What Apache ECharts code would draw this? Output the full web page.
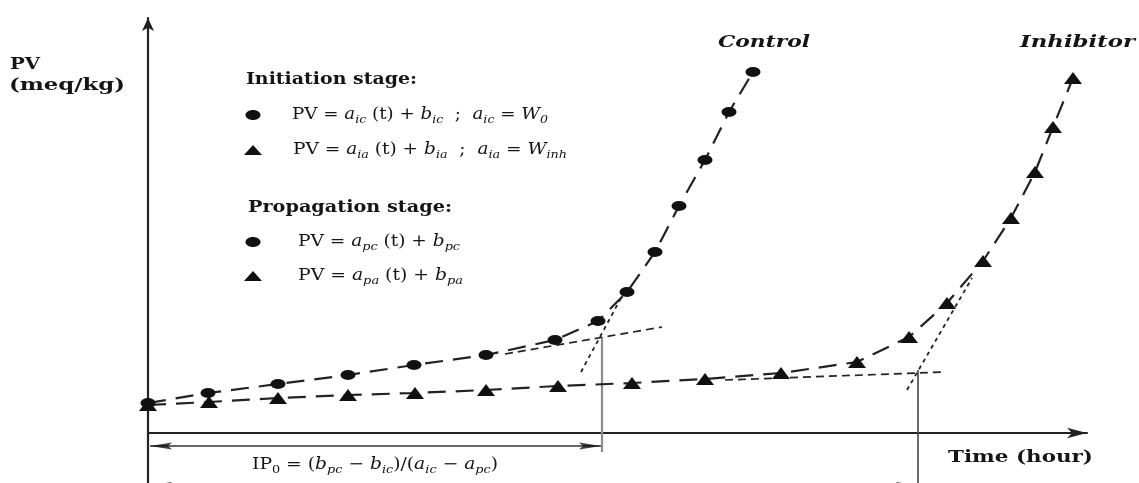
<!DOCTYPE html>
<html><head><meta charset="utf-8">
<script src="https://cdn.jsdelivr.net/npm/echarts@6/dist/echarts.min.js"></script>
<style>html,body{margin:0;padding:0;background:#fff}#c{width:1139px;height:483px}</style>
</head><body><div id="c"></div>
<script>
// ---- data (time units, PV units) ----
const controlTime = [0, 6.0, 13.0, 20.0, 26.6, 33.8, 40.7, 45.0, 47.9, 50.7, 53.1, 55.7, 58.1, 60.5];
const controlPV   = [3.0, 4.0, 4.9, 5.8, 6.8, 7.8, 9.3, 11.2, 14.1, 18.1, 22.7, 27.3, 32.1, 36.1];
const inhibitorTime = [0, 6.1, 13.0, 20.0, 26.7, 33.8, 41.0, 48.4, 55.7, 63.3, 70.9, 76.1, 79.9, 83.5, 86.3, 88.7, 90.5, 92.5];
const inhibitorPV   = [2.8, 3.1, 3.5, 3.8, 4.0, 4.3, 4.7, 5.0, 5.4, 6.0, 7.1, 9.6, 13.0, 17.2, 21.5, 26.1, 30.6, 35.5];
const controlInitTangent   = [[35.7, 7.9], [51.4, 10.6]];
const controlPropTangent   = [[43.3, 6.1], [47.3, 13.5]];
const inhibitorInitTangent = [[57.7, 5.3], [79.7, 6.1]];
const inhibitorPropTangent = [[75.9, 4.3], [82.4, 15.5]];
const ipControlLine   = [[45.4, 9.5], [45.4, -1.9]];
const ipInhibitorLine = [[77.0, 6.3], [77.0, -5]];
const ipArrowLine     = [[0.2, -1.3], [45.3, -1.3]];
const arrowLeftPts  = [[1.3, -1.3], [1.3, -5.25]];
const arrowRightPts = [[44.2, -1.3], [75.9, -5.25]];

const FONT = '"DejaVu Serif", "Liberation Serif", serif';
const INK = '#151515';
const ST = {
  b:  {fontWeight:'bold', fontStyle:'normal', fontSize:17, lineHeight:22, verticalAlign:'middle'},
  bi: {fontWeight:'bold', fontStyle:'italic', fontSize:17, lineHeight:22, verticalAlign:'middle'},
  n:  {fontWeight:'normal', fontStyle:'normal', fontSize:16, lineHeight:22, verticalAlign:'middle'},
  i:  {fontWeight:'normal', fontStyle:'italic', fontSize:16, lineHeight:22, verticalAlign:'middle'},
  s:  {fontWeight:'normal', fontStyle:'italic', fontSize:11, lineHeight:16, verticalAlign:'bottom'},
  sn: {fontWeight:'normal', fontStyle:'normal', fontSize:11, lineHeight:16, verticalAlign:'bottom'}
};
const rich = {};
Object.keys(ST).forEach(k => { rich[k] = Object.assign({fontFamily: FONT, fill: INK}, ST[k]); });
const cv = document.createElement('canvas').getContext('2d');
function measure(segs){
  let w = 0;
  segs.forEach(([t,k]) => { const s = ST[k]; cv.font = `${s.fontStyle} ${s.fontWeight} ${s.fontSize}px ${FONT}`; w += cv.measureText(t).width; });
  return w;
}
function txt(segs, x, y, width){
  return {type:'text', x:x, y:y, scaleX: width / measure(segs), silent:true, z:20,
    style:{text: segs.map(([t,k]) => `{${k}|${t}}`).join(''), rich: rich, align:'left', verticalAlign:'middle'}};
}
const texts = [
  txt([['PV','b']], 10, 65, 30),
  txt([['(meq/kg)','b']], 9, 86, 116),
  txt([['Control','bi']], 718, 43, 92),
  txt([['Inhibitor','bi']], 1020, 43, 115),
  txt([['Time (hour)','b']], 948, 458, 145),
  txt([['Initiation stage:','b']], 246, 80, 171),
  txt([['PV = ','n'],['a','i'],['ic','s'],[' (t) + ','n'],['b','i'],['ic','s'],['  ;  ','n'],['a','i'],['ic','s'],[' = ','n'],['W','i'],['0','s']], 292, 115, 256),
  txt([['PV = ','n'],['a','i'],['ia','s'],[' (t) + ','n'],['b','i'],['ia','s'],['  ;  ','n'],['a','i'],['ia','s'],[' = ','n'],['W','i'],['inh','s']], 293, 150, 274),
  txt([['Propagation stage:','b']], 248, 208, 204),
  txt([['PV = ','n'],['a','i'],['pc','s'],[' (t) + ','n'],['b','i'],['pc','s']], 298, 242, 162),
  txt([['PV = ','n'],['a','i'],['pa','s'],[' (t) + ','n'],['b','i'],['pa','s']], 298, 276, 165),
  txt([['IP','n'],['0','sn'],[' = (','n'],['b','i'],['pc','s'],[' \u2212 ','n'],['b','i'],['ic','s'],[')/(','n'],['a','i'],['ic','s'],[' \u2212 ','n'],['a','i'],['pc','s'],[')','n']], 252, 465, 246)
];
const legendMarks = [
  {type:'ellipse', shape:{cx:253, cy:115, rx:7.5, ry:5}, style:{fill:'#111'}, silent:true},
  {type:'polygon', shape:{points:[[253,145],[262,155],[244,155]]}, style:{fill:'#111'}, silent:true},
  {type:'ellipse', shape:{cx:253, cy:242, rx:7.5, ry:5}, style:{fill:'#111'}, silent:true},
  {type:'polygon', shape:{points:[[253,271],[262,281],[244,281]]}, style:{fill:'#111'}, silent:true}
];

const zip = (a,b) => a.map((v,i) => [v, b[i]]);
const plain = (data, color, width, type, z) => ({type:'line', data, symbol:'none', clip:false, silent:true, z:z||2,
  lineStyle:{color, width, type}});

const option = {
  animation:false,
  backgroundColor:'#fff',
  grid:{left:148, right:52, top:18, bottom:0, containLabel:false},
  xAxis:{type:'value', min:0, max:93.9,
    axisLine:{onZero:true, symbol:['none','arrow'], symbolSize:[8,20], lineStyle:{color:'#222', width:2}},
    axisTick:{show:false}, axisLabel:{show:false}, splitLine:{show:false}},
  yAxis:{type:'value', min:-5, max:41.5,
    axisLine:{show:true, onZero:true, symbol:['none','arrow'], symbolSize:[9,13], lineStyle:{color:'#222', width:2.2}},
    axisTick:{show:false}, axisLabel:{show:false}, splitLine:{show:false}},
  graphic: texts.concat(legendMarks),
  series:[
    plain(controlInitTangent, '#222', 1.7, [8,5]),
    plain(controlPropTangent, '#222', 1.8, [4,4]),
    plain(inhibitorInitTangent, '#222', 1.7, [8,5]),
    plain(inhibitorPropTangent, '#222', 1.8, [4,4]),
    plain(ipControlLine, '#8c8c8c', 2.2, 'solid'),
    plain(ipInhibitorLine, '#444', 1.6, 'solid'),
    plain(ipArrowLine, '#333', 1.6, 'solid'),
    {type:'scatter', data: arrowLeftPts, symbol:'path://M22,0L0,3.5L22,7L18,3.5Z', symbolSize:[22,7], clip:false, silent:true, itemStyle:{color:'#111'}},
    {type:'scatter', data: arrowRightPts, symbol:'path://M0,0L22,3.5L0,7L4,3.5Z', symbolSize:[22,7], clip:false, silent:true, itemStyle:{color:'#111'}},
    {type:'line', name:'Control', data: zip(controlTime, controlPV), symbol:'circle', symbolSize:[15,10], clip:false, silent:true, z:4,
      itemStyle:{color:'#111'}, lineStyle:{color:'#222', width:2.2, type:[18,10]}},
    {type:'line', name:'Inhibitor', data: zip(inhibitorTime, inhibitorPV), symbol:'triangle', symbolSize:[18,12], clip:false, silent:true, z:4,
      itemStyle:{color:'#111'}, lineStyle:{color:'#222', width:2.2, type:[18,10]}}
  ]
};
const chart = echarts.init(document.getElementById('c'), null, {renderer:'canvas'});
chart.setOption(option);
</script>
</body></html>
